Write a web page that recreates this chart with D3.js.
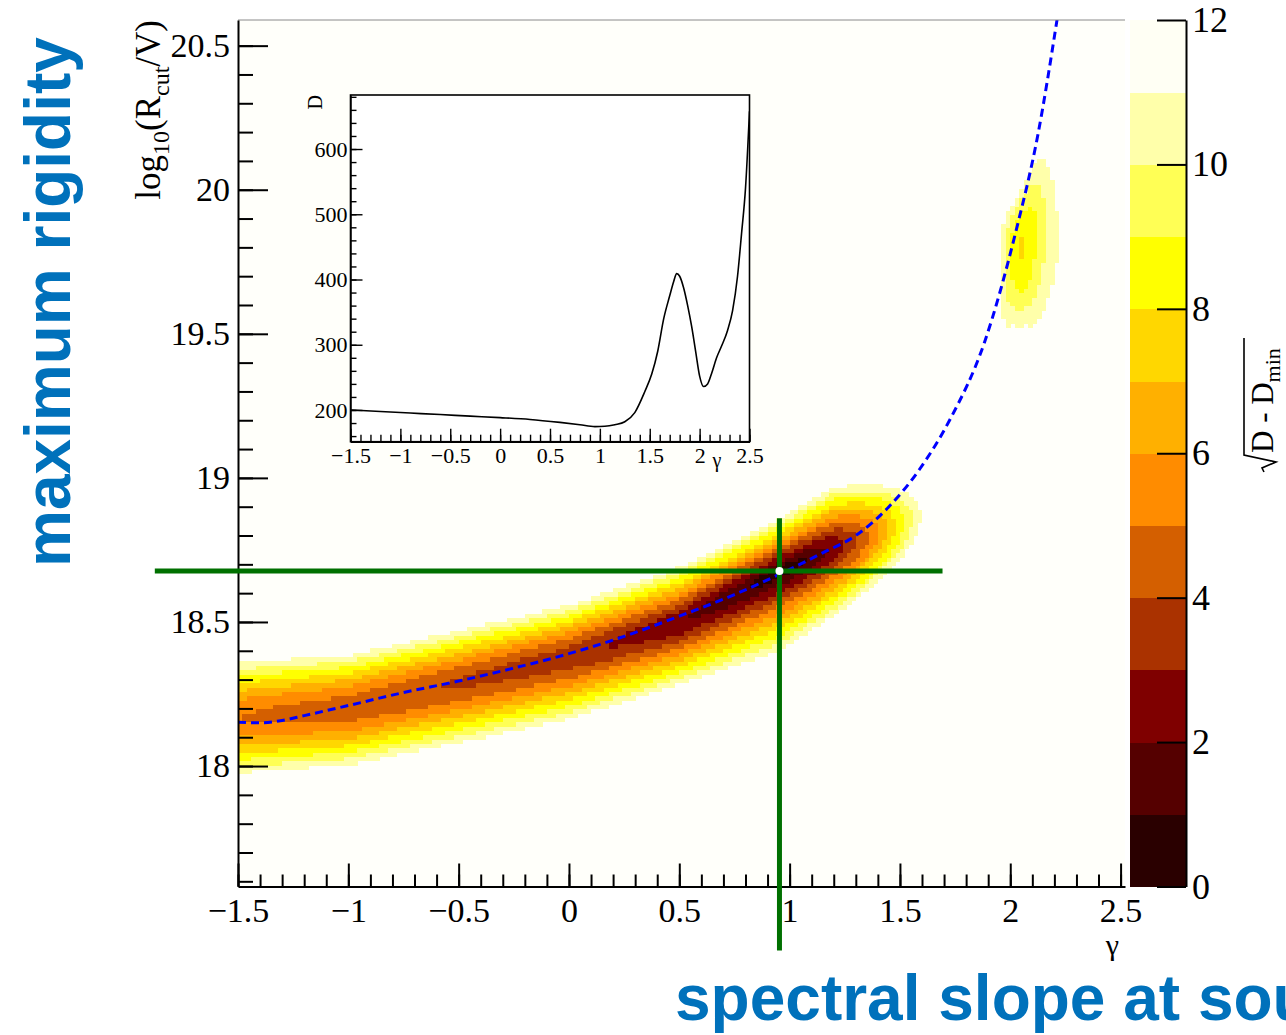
<!DOCTYPE html>
<html><head><meta charset="utf-8">
<script src="https://cdn.jsdelivr.net/npm/d3@7"></script>
<style>
html,body{margin:0;padding:0;background:#fff;overflow:hidden;}
svg{display:block;}
</style></head><body>
<svg id="c" width="1286" height="1035"></svg>
<script>
// ================= DATA =================
// colour palette for sqrt(D - Dmin), one colour per unit band 0..12
const paletteBreaks = [1,2,3,4,5,6,7,8,9,10,11];
const paletteColors = ["#2a0000","#550000","#7f0000","#aa3200","#d45f00","#ff8c00",
                       "#ffb000","#ffd700","#ffff00","#ffff55","#ffffaa","#fffff4"];
const paletteTicks = [0,2,4,6,8,10,12];
const paletteTickLabels = ["0","2","4","6","8","10","12"];

// main axes ticks
const xMajorTicks = [-1.5,-1,-0.5,0,0.5,1,1.5,2,2.5];
const xTickLabels = ["\u22121.5","\u22121","\u22120.5","0","0.5","1","1.5","2","2.5"];
const yMajorTicks = [18,18.5,19,19.5,20,20.5];
const yTickLabels = ["18","18.5","19","19.5","20","20.5"];

// inset: profile D(gamma)
const profileGamma = [-1.5,-1.2,-0.9,-0.6,-0.3,0,0.3,0.6,0.8,0.95,1.05,1.15,1.25,1.35,1.45,1.52,1.58,1.64,1.7,1.74,1.77,1.8,1.84,1.88,1.92,1.96,2.0,2.04,2.08,2.12,2.17,2.22,2.28,2.33,2.38,2.42,2.46,2.5];
const profileD     = [200,197.6,195.3,193,190.6,188.3,185.5,181,177.5,174.5,175,177.5,182,196,228,255,290,340,375,397,409,405,387,360,328,290,252,236,240,256,280,298,322,352,405,470,540,658];
const insetYTicks = [200,300,400,500,600];
const insetYTickLabels = ["200","300","400","500","600"];

// 2D scan: minimum of sqrt(D - Dmin) along the valley
const valleyMinGamma = [-1.5,-1.0,-0.5,0,0.3,0.6,0.8,0.95,1.1,1.2,1.3,1.4,1.5,1.6,1.9,1.95,2.0,2.04,2.08,2.12,2.17,2.22];
const valleyMin      = [5.0,4.4,3.9,3.4,2.7,1.8,1.1,0,1.2,2.3,3.8,5.9,8.5,11.2,12,11.0,8.8,7.85,8.1,9.0,10.3,11.1];
// valley centre log10(R) and curvature scales above / below the centre
const valleyGamma  = [-1.5,-1.0,-0.5,0.0,0.5,0.95,1.2,1.4,1.6,1.9,1.966,2.011,2.07,2.132,2.178,2.22];
const valleyLogR   = [18.168,18.202,18.29,18.38,18.50,18.677,18.76,18.81,18.87,19.72,19.75,19.80,19.82,19.87,19.88,19.83];
const valleyScaleUp   = [0.0195,0.0180,0.0174,0.0170,0.0176,0.0162,0.0192,0.0176,0.0170,0.031,0.031,0.0203,0.028,0.040,0.053,0.08];
const valleyScaleDown = [0.0195,0.0195,0.0202,0.0205,0.0200,0.0250,0.0220,0.0178,0.0170,0.048,0.048,0.0377,0.0387,0.054,0.066,0.08];

// blue dashed curve
const curveGamma = [-1.5,-1.4,-1.3,-1.2,-1.0,-0.75,-0.5,-0.25,0,0.25,0.5,0.75,0.955,1.15,1.3,1.45,1.589,1.725,1.883,2.027,2.125,2.212];
const curveLogR  = [18.152,18.15,18.158,18.175,18.21,18.255,18.295,18.34,18.39,18.45,18.52,18.595,18.666,18.74,18.80,18.90,19.03,19.2,19.47,19.86,20.19,20.59];

// best-fit point and green cross lines (data coordinates)
const bestGamma = 0.954, bestLogR = 18.677;
const crossHGamma = [-1.877, 1.693];
const crossVLogR  = [17.36, 18.86];

// ================= DRAW =================
const svg = d3.select("#c");
const serif = "'Liberation Serif','Times New Roman',serif";
const sans = "'Liberation Sans',Arial,Helvetica,sans-serif";
const F = {x0:238, x1:1125, y0:20, y1:886.5};
const x = d3.scaleLinear().domain([-1.5,2.52]).range([F.x0,F.x1]);
const y = d3.scaleLinear().domain([17.582,20.589]).range([F.y1,F.y0]);
const colorOf = d3.scaleThreshold().domain(paletteBreaks).range(paletteColors);

svg.append("rect").attr("width",1286).attr("height",1035).attr("fill","#fff");
svg.append("rect").attr("x",F.x0).attr("y",F.y0).attr("width",F.x1-F.x0).attr("height",F.y1-F.y0).attr("fill","#fffffa");

const defs = svg.append("defs");
defs.append("clipPath").attr("id","fclip").append("rect")
  .attr("x",F.x0).attr("y",F.y0).attr("width",F.x1-F.x0).attr("height",F.y1-F.y0);

// heat map cells
const minScale = d3.scaleLinear().domain(valleyMinGamma).range(valleyMin).clamp(true);
const cScale = d3.scaleLinear().domain(valleyGamma).range(valleyLogR).clamp(true);
const suScale = d3.scaleLinear().domain(valleyGamma).range(valleyScaleUp).clamp(true);
const sdScale = d3.scaleLinear().domain(valleyGamma).range(valleyScaleDown).clamp(true);
const nx = 201, ny = 200;
const [gx0,gx1] = x.domain(), [ry0,ry1] = y.domain();
const dx = (gx1-gx0)/nx, dy = (ry1-ry0)/ny;
const cells = [];
for (let i=0;i<nx;i++){
  const gc = gx0 + (i+0.5)*dx;
  const m = minScale(gc);
  if (m >= 11) continue;
  const d2 = m*m;
  const c = cScale(gc), su = suScale(gc), sd = sdScale(gc);
  for (let j=0;j<ny;j++){
    const rc = ry0 + (j+0.5)*dy;
    const s = rc > c ? su : sd;
    const v = Math.sqrt(d2 + Math.pow((rc-c)/s,2));
    if (v < 11) cells.push({g:gx0+i*dx, r:ry0+j*dy, v});
  }
}
svg.append("g").attr("clip-path","url(#fclip)").attr("shape-rendering","crispEdges")
  .selectAll("rect").data(cells).join("rect")
  .attr("x",d=>x(d.g)).attr("y",d=>y(d.r+dy))
  .attr("width",d=>x(d.g+dx)-x(d.g)+0.4)
  .attr("height",d=>y(d.r)-y(d.r+dy)+0.4)
  .attr("fill",d=>colorOf(d.v));

// blue dashed curve
const curvePts = curveGamma.map((g,i)=>[g,curveLogR[i]]);
svg.append("path").attr("clip-path","url(#fclip)")
  .attr("d", d3.line().x(d=>x(d[0])).y(d=>y(d[1])).curve(d3.curveMonotoneX)(curvePts))
  .attr("fill","none").attr("stroke","#0000ff").attr("stroke-width",3).attr("stroke-dasharray","8,5");

// frame top line
svg.append("line").attr("x1",F.x0).attr("x2",F.x1).attr("y1",F.y0).attr("y2",F.y0)
  .attr("stroke","#8a8a8a").attr("stroke-width",1);

// axes
function styleAxis(g, fs){
  g.selectAll("path,line").attr("stroke","#000").attr("stroke-width",2);
  g.selectAll("text").attr("font-family",serif).attr("font-size",fs).attr("fill","#000");
}
const xMinor = d3.range(-1.5, 2.5001, 0.1);
const yMinor = d3.range(17.6, 20.5801, 0.1);
svg.append("g").attr("transform",`translate(0,${F.y1})`)
  .call(d3.axisBottom(x).tickValues(xMinor).tickSize(-12).tickSizeOuter(0).tickFormat(""))
  .call(g=>styleAxis(g,34));
svg.append("g").attr("transform",`translate(0,${F.y1})`)
  .call(d3.axisBottom(x).tickValues(xMajorTicks).tickSize(-23).tickSizeOuter(0).tickPadding(11)
     .tickFormat((d,i)=>xTickLabels[i]))
  .call(g=>styleAxis(g,34)).call(g=>g.select(".domain").remove());
svg.append("g").attr("transform",`translate(${F.x0},0)`)
  .call(d3.axisLeft(y).tickValues(yMinor).tickSize(-15).tickSizeOuter(0).tickFormat(""))
  .call(g=>styleAxis(g,34));
svg.append("g").attr("transform",`translate(${F.x0},0)`)
  .call(d3.axisLeft(y).tickValues(yMajorTicks).tickSize(-30).tickSizeOuter(0).tickPadding(8)
     .tickFormat((d,i)=>yTickLabels[i]))
  .call(g=>styleAxis(g,34)).call(g=>g.select(".domain").remove());

// axis titles
svg.append("text").attr("x",1119).attr("y",955).attr("text-anchor","end")
  .attr("font-family",serif).attr("font-size",30).text("\u03b3");
const yt = svg.append("text").attr("transform","translate(160,20) rotate(-90)")
  .attr("text-anchor","end").attr("font-family",serif).attr("font-size",35);
yt.append("tspan").text("log");
yt.append("tspan").attr("dy",9).attr("font-size",24).text("10");
yt.append("tspan").attr("dy",-9).text("(R");
yt.append("tspan").attr("dy",9).attr("font-size",24).text("cut");
yt.append("tspan").attr("dy",-9).text("/V)");

// palette
const z = d3.scaleLinear().domain([0,12]).range([F.y1,F.y0]);
const P = {x0:1130, x1:1186};
svg.append("g").attr("shape-rendering","crispEdges").selectAll("rect")
  .data(paletteColors).join("rect")
  .attr("x",P.x0).attr("width",P.x1-P.x0)
  .attr("y",(d,i)=>z(i+1)).attr("height",(d,i)=>z(i)-z(i+1)+0.5)
  .attr("fill",d=>d);
svg.append("g").attr("transform",`translate(${P.x1},0)`)
  .call(d3.axisRight(z).tickValues(paletteTicks).tickSize(-29).tickSizeOuter(0).tickPadding(6)
     .tickFormat((d,i)=>paletteTickLabels[i]))
  .call(g=>styleAxis(g,36));
// palette title  sqrt(D - Dmin)
const pt = svg.append("g").attr("transform","translate(1273,472) rotate(-90)");
pt.append("path").attr("d","M0,-9 L4,-11 L10,3 L17,-29 L134,-29")
  .attr("fill","none").attr("stroke","#000").attr("stroke-width",1.6);
const ptt = pt.append("text").attr("x",19).attr("y",0).attr("font-family",serif).attr("font-size",31);
ptt.append("tspan").text("D - D");
ptt.append("tspan").attr("dy",7).attr("font-size",22).text("min");

// ---------- inset ----------
const I = {x0:350.5, x1:749.5, y0:95, y1:441.7};
const ix = d3.scaleLinear().domain([-1.5,2.5]).range([I.x0,I.x1]);
const iy = d3.scaleLinear().domain([151.4,682.8]).range([I.y1,I.y0]);
svg.append("rect").attr("x",I.x0).attr("y",I.y0).attr("width",I.x1-I.x0).attr("height",I.y1-I.y0)
  .attr("fill","#ffffff").attr("stroke","#000").attr("stroke-width",1.6);
defs.append("clipPath").attr("id","iclip").append("rect")
  .attr("x",I.x0).attr("y",I.y0).attr("width",I.x1-I.x0).attr("height",I.y1-I.y0);
function styleInset(g){
  g.selectAll("path,line").attr("stroke","#000").attr("stroke-width",1.4);
  g.selectAll("text").attr("font-family",serif).attr("font-size",22).attr("fill","#000");
}
svg.append("g").attr("transform",`translate(0,${I.y1})`)
  .call(d3.axisBottom(ix).tickValues(d3.range(-1.5,2.5001,0.1)).tickSize(-7).tickSizeOuter(0).tickFormat(""))
  .call(styleInset);
svg.append("g").attr("transform",`translate(0,${I.y1})`)
  .call(d3.axisBottom(ix).tickValues(xMajorTicks).tickSize(-13).tickSizeOuter(0).tickPadding(6)
     .tickFormat((d,i)=>xTickLabels[i]))
  .call(styleInset).call(g=>g.select(".domain").remove());
svg.append("g").attr("transform",`translate(${I.x0},0)`)
  .call(d3.axisLeft(iy).tickValues(d3.range(160,681,20)).tickSize(-6).tickSizeOuter(0).tickFormat(""))
  .call(styleInset);
svg.append("g").attr("transform",`translate(${I.x0},0)`)
  .call(d3.axisLeft(iy).tickValues(insetYTicks).tickSize(-12).tickSizeOuter(0).tickPadding(3)
     .tickFormat((d,i)=>insetYTickLabels[i]))
  .call(styleInset).call(g=>g.select(".domain").remove());
svg.append("text").attr("x",717).attr("y",467).attr("text-anchor","middle")
  .attr("font-family",serif).attr("font-size",20).text("\u03b3");
svg.append("text").attr("transform","translate(322,95) rotate(-90)").attr("text-anchor","end")
  .attr("font-family",serif).attr("font-size",20).text("D");
const profPts = profileGamma.map((g,i)=>[g,profileD[i]]);
svg.append("path").attr("clip-path","url(#iclip)")
  .attr("d", d3.line().x(d=>ix(d[0])).y(d=>iy(d[1])).curve(d3.curveMonotoneX)(profPts))
  .attr("fill","none").attr("stroke","#000").attr("stroke-width",1.6);

// ---------- green cross + best fit marker ----------
svg.append("line").attr("x1",x(crossHGamma[0])).attr("x2",x(crossHGamma[1]))
  .attr("y1",y(bestLogR)).attr("y2",y(bestLogR)).attr("stroke","#007000").attr("stroke-width",5);
svg.append("line").attr("x1",x(bestGamma)).attr("x2",x(bestGamma))
  .attr("y1",y(crossVLogR[0])).attr("y2",y(crossVLogR[1])).attr("stroke","#007000").attr("stroke-width",5);
svg.append("circle").attr("cx",x(bestGamma)).attr("cy",y(bestLogR)).attr("r",4).attr("fill","#fff");

// ---------- big blue labels ----------
svg.append("text").attr("transform","translate(70,567) rotate(-90)")
  .attr("font-family",sans).attr("font-weight","bold").attr("font-size",64).attr("fill","#0071bb")
  .text("maximum rigidity");
svg.append("text").attr("x",675).attr("y",1020)
  .attr("font-family",sans).attr("font-weight","bold").attr("font-size",64).attr("fill","#0071bb")
  .text("spectral slope at source");
</script>
</body></html>
